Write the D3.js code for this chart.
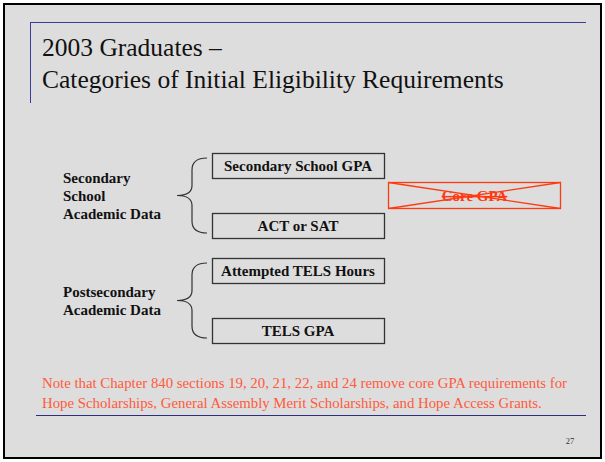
<!DOCTYPE html>
<html><head><meta charset="utf-8">
<script src="https://cdn.jsdelivr.net/npm/d3@7"></script>
<style>html,body{margin:0;padding:0;background:#fff;}svg{display:block;}</style>
</head><body>
<script>
const titleLines = ["2003 Graduates \u2013", "Categories of Initial Eligibility Requirements"];
const groups = ["secondary", "postsecondary"];
const groupLabels = [["Secondary", "School", "Academic Data"], ["Postsecondary", "Academic Data"]];
const boxLabels = [["Secondary School GPA", "ACT or SAT"], ["Attempted TELS Hours", "TELS GPA"]];
const removedLabel = "Core GPA";
const noteLines = [
  "Note that Chapter 840 sections 19, 20, 21, 22, and 24 remove core GPA requirements for",
  "Hope Scholarships, General Assembly Merit Scholarships, and Hope Access Grants."
];
const pageNumber = "27";

const W = 605, H = 462;
const serif = "'Liberation Serif','Times New Roman',serif";
const svg = d3.select("body").append("svg").attr("width", W).attr("height", H);

svg.append("rect").attr("x", 0).attr("y", 0).attr("width", W).attr("height", H).attr("fill", "#ffffff");
svg.append("rect").attr("x", 4).attr("y", 4).attr("width", 597).attr("height", 454)
  .attr("fill", "#dddddd").attr("stroke", "#000").attr("stroke-width", 2);

// title rules
svg.append("line").attr("x1", 30).attr("x2", 586).attr("y1", 22.5).attr("y2", 22.5).attr("stroke", "#3b3b9a").attr("stroke-width", 1);
svg.append("line").attr("x1", 30.5).attr("x2", 30.5).attr("y1", 22).attr("y2", 103).attr("stroke", "#3b3b9a").attr("stroke-width", 1);

svg.selectAll("text.title").data(titleLines).enter().append("text").attr("class", "title")
  .attr("x", 42).attr("y", (d, i) => 56 + i * 32)
  .attr("font-family", serif).attr("font-size", 25.5).attr("fill", "#111")
  .text(d => d);

// scales
const outer = d3.scaleBand().domain(groups).range([153, 343]).paddingInner(20 / 105).paddingOuter(0);
const inner = d3.scaleBand().domain([0, 1]).range([0, outer.bandwidth()]).paddingInner(35 / 60).paddingOuter(0);
const x = d3.scaleLinear().domain([0, 1]).range([212, 384]);

groups.forEach((g, gi) => {
  const gy = outer(g);
  const G = svg.append("g");
  // boxes
  boxLabels[gi].forEach((lab, bi) => {
    const by = gy + inner(bi);
    G.append("rect").attr("x", x(0) + 0.5).attr("y", by + 0.5).attr("width", x(1) - x(0)).attr("height", inner.bandwidth())
      .attr("fill", "none").attr("stroke", "#333").attr("stroke-width", 1.3);
    G.append("text").attr("x", (x(0) + x(1)) / 2).attr("y", by + inner.bandwidth() / 2 + 5.5)
      .attr("text-anchor", "middle").attr("font-family", serif).attr("font-weight", "bold").attr("font-size", 15)
      .attr("fill", "#111").text(lab);
  });
  // brace
  const top = gy + 5, bot = gy + outer.bandwidth() - 5, mid = (top + bot) / 2;
  const xr = 207, xv = 192, xt = 177;
  const p = d3.path();
  p.moveTo(xr, top);
  p.quadraticCurveTo(xv, top, xv, top + 12);
  p.lineTo(xv, mid - 10);
  p.quadraticCurveTo(xv, mid, xt, mid);
  p.quadraticCurveTo(xv, mid, xv, mid + 10);
  p.lineTo(xv, bot - 12);
  p.quadraticCurveTo(xv, bot, xr, bot);
  G.append("path").attr("d", p.toString()).attr("fill", "none").attr("stroke", "#333").attr("stroke-width", 1.2);
  // labels
  const lines = groupLabels[gi];
  const lh = 18;
  const y0 = mid - (lines.length - 1) * lh / 2 + 5;
  lines.forEach((ln, li) => {
    G.append("text").attr("x", 63).attr("y", y0 + li * lh)
      .attr("font-family", serif).attr("font-weight", "bold").attr("font-size", 15).attr("fill", "#111").text(ln);
  });
});

// removed Core GPA box
{
  const gy = outer(groups[0]);
  const cy = gy + outer.bandwidth() / 2;
  const x0 = 388.5, x1 = 560.5, y0 = cy - 13, y1 = cy + 13;
  const red = "#ff3a10";
  svg.append("rect").attr("x", x0).attr("y", y0).attr("width", x1 - x0).attr("height", y1 - y0)
    .attr("fill", "none").attr("stroke", red).attr("stroke-width", 1.3);
  svg.append("text").attr("x", (x0 + x1) / 2).attr("y", cy + 5.5).attr("text-anchor", "middle")
    .attr("font-family", serif).attr("font-weight", "bold").attr("font-size", 15).attr("fill", red)
    .attr("text-decoration", "line-through").text(removedLabel);
  svg.append("line").attr("x1", x0).attr("y1", y0).attr("x2", x1).attr("y2", y1).attr("stroke", red).attr("stroke-width", 1.3);
  svg.append("line").attr("x1", x0).attr("y1", y1).attr("x2", x1).attr("y2", y0).attr("stroke", red).attr("stroke-width", 1.3);
}

// note
svg.selectAll("text.note").data(noteLines).enter().append("text").attr("class", "note")
  .attr("x", 42).attr("y", (d, i) => 388 + i * 20)
  .attr("font-family", serif).attr("font-size", 14.8).attr("fill", "#ff5a3c").text(d => d);
svg.append("line").attr("x1", 36).attr("x2", 586).attr("y1", 415.5).attr("y2", 415.5).attr("stroke", "#2e2e80").attr("stroke-width", 1.2);

svg.append("text").attr("x", 570).attr("y", 444).attr("text-anchor", "middle")
  .attr("font-family", serif).attr("font-size", 8.5).attr("fill", "#333").text(pageNumber);
</script>
</body></html>
